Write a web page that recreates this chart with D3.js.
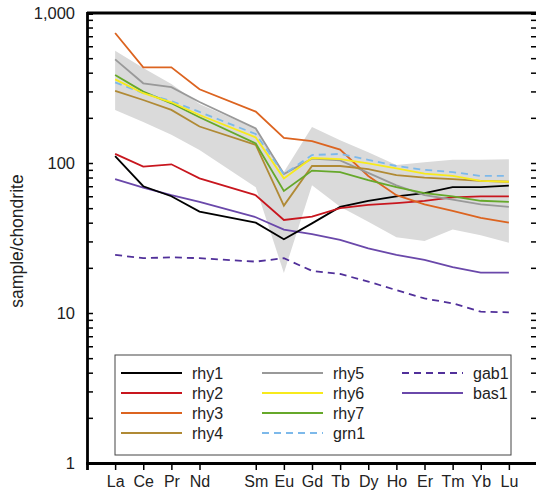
<!DOCTYPE html>
<html>
<head>
<meta charset="utf-8">
<script src="https://cdn.jsdelivr.net/npm/d3@7"></script>
<style>
  body { margin: 0; background: #fff; }
  svg { font-family: "Liberation Sans", Arial, sans-serif; }
</style>
</head>
<body>
<div id="chart"></div>
<script>
// REE elements, Pm left out but its slot kept
const elements = ['La', 'Ce', 'Pr', 'Nd', 'Sm', 'Eu', 'Gd', 'Tb', 'Dy', 'Ho', 'Er', 'Tm', 'Yb', 'Lu'];
const slots = [0, 1, 2, 3, 5, 6, 7, 8, 9, 10, 11, 12, 13, 14];

const yTicks = [1, 10, 100, 1000];

// grey envelope
const bandUpper = [561, 430, 336, 247, 170, 87, 174, 142, 118, 97, 101, 105, 105, 106];
const bandLower = [226, 188, 154, 122, 69, 18.5, 71, 51, 40.6, 32, 30.2, 36, 33, 29.4];

const rhy1 = [111, 70, 60, 47.4, 40, 31, 39.6, 51, 56, 60, 63, 69, 69, 70.6];
const rhy2 = [115, 94.5, 98, 79, 61, 41.7, 43.9, 50, 52.5, 54, 56, 59, 60, 60];
const rhy3 = [736, 434, 434, 310, 220, 147, 140, 123, 82, 61, 53, 48, 43, 40];
const rhy4 = [303, 263, 226, 175, 132, 52, 95.5, 95.5, 91, 83, 80, 78, 76, 75];
const rhy5 = [491, 340, 320, 255, 170, 84.5, 107, 104, 86, 71, 61, 57, 53, 51];
const rhy6 = [361, 292, 254, 209, 148, 79, 108, 106, 99.5, 92, 85, 82, 76, 75];
const rhy7 = [386, 299, 250, 202, 135, 65, 89, 87, 77, 69, 63, 60, 56, 55];
const grn1 = [345, 292, 259, 219, 156, 84, 113, 115, 105, 95.5, 90, 87, 82, 82];
const gab1 = [24.4, 23.2, 23.5, 23.2, 22, 23.2, 19.1, 18.2, 16.2, 14.2, 12.5, 11.6, 10.2, 10.1];
const bas1 = [78, 68.5, 61, 55, 43.5, 36, 33.6, 30.7, 27, 24.4, 22.6, 20.2, 18.6, 18.6];

const series = [
    { name: 'rhy1', values: rhy1, color: '#000000', dash: null },
    { name: 'rhy2', values: rhy2, color: '#c8161e', dash: null },
    { name: 'rhy3', values: rhy3, color: '#dc6420', dash: null },
    { name: 'rhy4', values: rhy4, color: '#b08a35', dash: null },
    { name: 'rhy5', values: rhy5, color: '#999999', dash: null },
    { name: 'rhy6', values: rhy6, color: '#f7ea1c', dash: null },
    { name: 'rhy7', values: rhy7, color: '#66a82a', dash: null },
    { name: 'grn1', values: grn1, color: '#7db9ea', dash: '7,5' },
    { name: 'gab1', values: gab1, color: '#51309a', dash: '7,5' },
    { name: 'bas1', values: bas1, color: '#6a48aa', dash: null }
];

// draw order: bottom first
const drawOrder = ['gab1', 'bas1', 'rhy1', 'rhy2', 'rhy3', 'rhy5', 'rhy4', 'rhy7', 'grn1', 'rhy6'];

const width = 536, height = 494;

const x = d3.scaleLinear().domain([-1, 15]).range([87, 537]);
const y = d3.scaleLog().domain([1, 1000]).range([463, 13]);

const svg = d3.select('#chart').append('svg')
    .attr('width', width)
    .attr('height', height);

// envelope
const bandPts = slots.map((s, i) => [x(s), y(bandUpper[i])])
    .concat(slots.map((s, i) => [x(s), y(bandLower[i])]).reverse());
svg.append('path')
    .attr('d', d3.line()(bandPts) + 'Z')
    .attr('fill', '#dadada');

const line = d3.line()
    .x((d, i) => x(slots[i]))
    .y(d => y(d));

drawOrder.forEach(n => {
    const s = series.find(d => d.name === n);
    svg.append('path')
        .attr('d', line(s.values))
        .attr('fill', 'none')
        .attr('stroke', s.color)
        .attr('stroke-width', 1.8)
        .attr('stroke-dasharray', s.dash);
});

// axes
const minorTicks = y.ticks(30);

const yAxisL = d3.axisRight(y).tickValues(minorTicks).tickSize(6).tickFormat('');
svg.append('g').attr('transform', `translate(${x(-1)},0)`).call(yAxisL)
    .call(g => g.select('.domain').attr('stroke-width', 2.8))
    .call(g => g.selectAll('.tick line').attr('stroke-width', 1.5));

const yAxisR = d3.axisLeft(y).tickValues(minorTicks).tickSize(6).tickFormat('');
svg.append('g').attr('transform', `translate(${x(15)},0)`).call(yAxisR)
    .call(g => g.select('.domain').attr('stroke-width', 2.8))
    .call(g => g.selectAll('.tick line').attr('stroke-width', 1.5));

svg.selectAll('.ylab')
    .data(yTicks)
    .enter().append('text')
    .attr('x', 75)
    .attr('y', d => y(d))
    .attr('dy', '0.35em')
    .attr('text-anchor', 'end')
    .attr('font-size', 16.5)
    .attr('fill', '#222')
    .text(d3.format(','));

// top border
svg.append('line')
    .attr('x1', x(-1)).attr('x2', x(15))
    .attr('y1', y(1000)).attr('y2', y(1000))
    .attr('stroke', '#000').attr('stroke-width', 2.8);

const xAxis = d3.axisBottom(x)
    .tickValues(slots)
    .tickSize(7)
    .tickFormat((d, i) => elements[i]);
svg.append('g').attr('transform', `translate(0,${y(1)})`).call(xAxis)
    .call(g => g.select('.domain').attr('stroke-width', 2.8))
    .call(g => g.selectAll('.tick line').attr('stroke-width', 1.5))
    .call(g => g.selectAll('.tick text')
        .attr('font-size', 16)
        .attr('font-family', '"Liberation Sans", Arial, sans-serif')
        .attr('fill', '#222')
        .attr('dy', '0.85em'));

svg.append('text')
    .attr('transform', `translate(23,241) rotate(-90)`)
    .attr('text-anchor', 'middle')
    .attr('font-size', 17.5)
    .attr('fill', '#222')
    .text('sample/chondrite');

// legend
const legend = svg.append('g');
legend.append('rect')
    .attr('x', 115).attr('y', 355)
    .attr('width', 396).attr('height', 100)
    .attr('fill', '#fff')
    .attr('stroke', '#444')
    .attr('stroke-width', 1);

const colX = [121, 262, 402];
const rowsPerCol = 4;
series.forEach((s, i) => {
    const c = Math.floor(i / rowsPerCol);
    const r = i % rowsPerCol;
    const ly = 373 + r * 20;
    legend.append('line')
        .attr('x1', colX[c]).attr('x2', colX[c] + 61)
        .attr('y1', ly).attr('y2', ly)
        .attr('stroke', s.color)
        .attr('stroke-width', 1.8)
        .attr('stroke-dasharray', s.dash);
    legend.append('text')
        .attr('x', colX[c] + 71)
        .attr('y', ly)
        .attr('dy', '0.35em')
        .attr('font-size', 16)
        .attr('fill', '#222')
        .text(s.name);
});
</script>
</body>
</html>
